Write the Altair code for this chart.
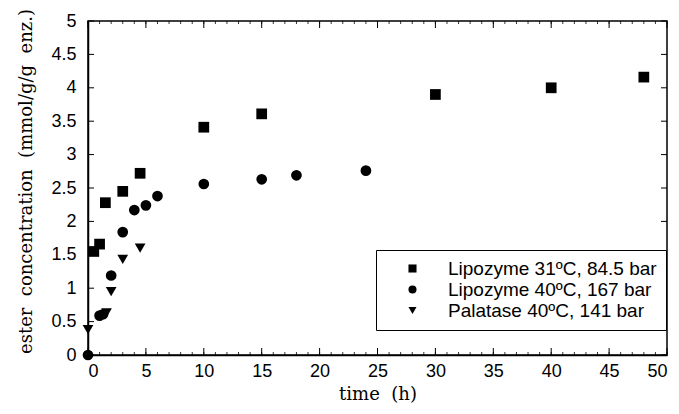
import altair as alt
import pandas as pd

# --- data ---
series_names = ["Lipozyme 31ºC, 84.5 bar", "Lipozyme 40ºC, 167 bar", "Palatase 40ºC, 141 bar"]

lip31_t = [0.5, 1.0, 1.5, 3.0, 4.5, 10, 15, 30, 40, 48]
lip31_c = [1.55, 1.66, 2.28, 2.45, 2.72, 3.41, 3.61, 3.90, 4.00, 4.16]

lip40_t = [0, 1.0, 1.3, 2.0, 3.0, 4.0, 5.0, 6.0, 10, 15, 18, 24]
lip40_c = [0.0, 0.59, 0.61, 1.19, 1.84, 2.17, 2.24, 2.38, 2.56, 2.63, 2.69, 2.76]

pal_t = [0, 1.6, 2.0, 3.0, 4.5]
pal_c = [0.38, 0.63, 0.95, 1.43, 1.60]

y_tick_vals = [0, 0.5, 1, 1.5, 2, 2.5, 3, 3.5, 4, 4.5, 5]
x_major_vals = [0, 5, 10, 15, 20, 25, 30, 35, 40, 45, 50]
x_minor_vals = [i for i in range(0, 51)]

rows = []
for name, ts, cs in zip(series_names, [lip31_t, lip40_t, pal_t], [lip31_c, lip40_c, pal_c]):
    for t, c in zip(ts, cs):
        rows.append({"series": name, "t": t, "c": c})
df = pd.DataFrame(rows)

NB = "\u00a0"
x_title = f"time{NB}{NB}(h)"
y_title = f"ester{NB}{NB}concentration{NB}{NB}(mmol/g/g{NB}{NB}enz.)"

W, H = 579, 334
xscale = alt.Scale(domain=[0, 50], nice=False)
yscale = alt.Scale(domain=[0, 5], nice=False)

x_axis = alt.Axis(title=x_title, values=x_major_vals, format="d", ticks=False,
                  labelPadding=7, titlePadding=5, titleFontSize=18, labelOverlap=False)
y_axis = alt.Axis(title=y_title, values=y_tick_vals, format="~g", ticks=False,
                  labelPadding=12, titlePadding=15, titleFontSize=18, titleY=160,
                  labelOverlap=False)

points = alt.Chart(df).mark_point(filled=True, color="black", opacity=1, size=115).encode(
    x=alt.X("t:Q", scale=xscale, axis=x_axis),
    y=alt.Y("c:Q", scale=yscale, axis=y_axis),
    shape=alt.Shape("series:N",
                    scale=alt.Scale(domain=series_names, range=["square", "circle", "triangle-down"]),
                    legend=alt.Legend(title=None, orient="none", legendX=288, legendY=229,
                                      strokeColor="black", fillColor="white", padding=9,
                                      labelFont="Liberation Sans", labelFontSize=19,
                                      labelColor="black", symbolFillColor="black",
                                      symbolStrokeColor="black", symbolSize=65,
                                      symbolOffset=18, labelOffset=26, rowPadding=1,
                                      labelLimit=400)),
)

ydf = pd.DataFrame({"v": y_tick_vals})
xmaj = pd.DataFrame({"v": x_major_vals})
xmin = pd.DataFrame({"v": x_minor_vals})

yt = alt.Y("v:Q", scale=yscale, axis=y_axis)
xt = alt.X("v:Q", scale=xscale, axis=x_axis)

yticks_l = alt.Chart(ydf).mark_rule(color="black", strokeWidth=1).encode(
    y=yt, x=alt.value(0), x2=alt.value(6))
yticks_r = alt.Chart(ydf).mark_rule(color="black", strokeWidth=1).encode(
    y=yt, x=alt.value(W), x2=alt.value(W - 6))
xticks_b = alt.Chart(xmaj).mark_rule(color="black", strokeWidth=1).encode(
    x=xt, y=alt.value(H), y2=alt.value(H - 7))
xticks_bm = alt.Chart(xmin).mark_rule(color="black", strokeWidth=0.8).encode(
    x=xt, y=alt.value(H), y2=alt.value(H - 3))
xticks_t = alt.Chart(xmaj).mark_rule(color="black", strokeWidth=1).encode(
    x=xt, y=alt.value(0), y2=alt.value(7))
xticks_tm = alt.Chart(xmin).mark_rule(color="black", strokeWidth=0.8).encode(
    x=xt, y=alt.value(0), y2=alt.value(3))

chart = alt.layer(
    points, yticks_l, yticks_r, xticks_b, xticks_bm, xticks_t, xticks_tm
).properties(
    width=W, height=H,
    autosize=alt.AutoSizeParams(type="none"),
    padding={"left": 80, "top": 13, "right": 4, "bottom": 51},
    background="white",
).configure_view(
    stroke="black", strokeWidth=1.5
).configure_axis(
    grid=False, domainColor="black", domainWidth=1.5,
    labelFont="Liberation Sans", labelFontSize=18, labelColor="black",
    titleFont="DejaVu Serif", titleFontWeight="normal", titleColor="black",
)

chart.save("out.html", embed_options={"renderer": "svg", "actions": False})
